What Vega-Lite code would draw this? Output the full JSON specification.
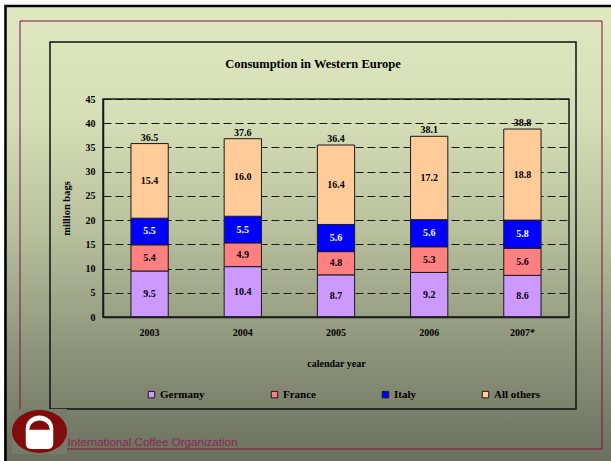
{
  "$schema": "https://vega.github.io/schema/vega-lite/v6.json",
  "width": 607,
  "height": 456,
  "padding": {"left": 4, "top": 5, "right": 0, "bottom": 0},
  "autosize": {"type": "none"},
  "background": "white",
  "config": {
    "view": {
      "stroke": null,
      "fill": {
        "gradient": "linear", "x1": 0, "y1": 0, "x2": 0, "y2": 1,
        "stops": [
          {"offset": 0, "color": "#e0e8c2"},
          {"offset": 0.25, "color": "#d6deb7"},
          {"offset": 0.5, "color": "#b8bf9c"},
          {"offset": 0.75, "color": "#8f957c"},
          {"offset": 1, "color": "#6b705e"}
        ]
      }
    },
    "font": "Liberation Serif"
  },
  "title": {
    "text": "Consumption in Western Europe",
    "font": "Liberation Serif", "fontWeight": "bold", "fontSize": 12.5, "color": "black",
    "anchor": "middle", "offset": -66, "dx": 5.5
  },
  "datasets": {
    "coffee": [
      {"year": "2003", "country": "Germany", "value": 9.5, "k": 1, "total": 36.5},
      {"year": "2003", "country": "France", "value": 5.4, "k": 2, "total": 36.5},
      {"year": "2003", "country": "Italy", "value": 5.5, "k": 3, "total": 36.5},
      {"year": "2003", "country": "All others", "value": 15.4, "k": 4, "total": 36.5},
      {"year": "2004", "country": "Germany", "value": 10.4, "k": 1, "total": 37.6},
      {"year": "2004", "country": "France", "value": 4.9, "k": 2, "total": 37.6},
      {"year": "2004", "country": "Italy", "value": 5.5, "k": 3, "total": 37.6},
      {"year": "2004", "country": "All others", "value": 16.0, "k": 4, "total": 37.6},
      {"year": "2005", "country": "Germany", "value": 8.7, "k": 1, "total": 36.4},
      {"year": "2005", "country": "France", "value": 4.8, "k": 2, "total": 36.4},
      {"year": "2005", "country": "Italy", "value": 5.6, "k": 3, "total": 36.4},
      {"year": "2005", "country": "All others", "value": 16.4, "k": 4, "total": 36.4},
      {"year": "2006", "country": "Germany", "value": 9.2, "k": 1, "total": 38.1},
      {"year": "2006", "country": "France", "value": 5.3, "k": 2, "total": 38.1},
      {"year": "2006", "country": "Italy", "value": 5.6, "k": 3, "total": 38.1},
      {"year": "2006", "country": "All others", "value": 17.2, "k": 4, "total": 38.1},
      {"year": "2007*", "country": "Germany", "value": 8.6, "k": 1, "total": 38.8},
      {"year": "2007*", "country": "France", "value": 5.6, "k": 2, "total": 38.8},
      {"year": "2007*", "country": "Italy", "value": 5.8, "k": 3, "total": 38.8},
      {"year": "2007*", "country": "All others", "value": 18.8, "k": 4, "total": 38.8}
    ],
    "one": [{"id": 1}]
  },
  "layer": [
    {
      "data": {"name": "one"},
      "mark": {"type": "rect", "filled": false, "stroke": "black", "strokeWidth": 2.5},
      "encoding": {
        "x": {"datum": "outer", "type": "nominal", "scale": {"range": [1.5, 800], "paddingInner": 0, "paddingOuter": 0}, "axis": null},
        "y": {"datum": "outer", "type": "nominal", "scale": {"range": [1, 800], "paddingInner": 0, "paddingOuter": 0}, "axis": null}
      }
    },
    {
      "data": {"name": "one"},
      "mark": {"type": "rect", "filled": false, "stroke": "#7a1040", "strokeWidth": 1},
      "encoding": {
        "x": {"datum": "maroon", "type": "nominal", "scale": {"range": [16, 598], "paddingInner": 0, "paddingOuter": 0},
          "axis": {"orient": "bottom", "offset": 0, "domain": false, "labels": false, "ticks": false, "grid": false,
            "title": "International Coffee Organization", "titleX": 63, "titleY": -18.5, "titleAlign": "left", "titleBaseline": "middle",
            "titleFont": "Liberation Sans", "titleFontWeight": "normal", "titleFontSize": 11.6, "titleColor": "#8e2457"}},
        "y": {"datum": "maroon", "type": "nominal", "scale": {"range": [16, 444], "paddingInner": 0, "paddingOuter": 0}, "axis": null}
      }
    },
    {
      "data": {"name": "one"},
      "mark": {"type": "rect", "filled": false, "stroke": "#111111", "strokeWidth": 1.5},
      "encoding": {
        "x": {"datum": "inner", "type": "nominal", "scale": {"range": [46, 572], "paddingInner": 0, "paddingOuter": 0}, "axis": null},
        "y": {"datum": "inner", "type": "nominal", "scale": {"range": [37, 404], "paddingInner": 0, "paddingOuter": 0}, "axis": null}
      }
    },
    {
      "data": {"name": "one"},
      "encoding": {
        "x": {"datum": "logo", "type": "nominal", "scale": {"range": [8, 63], "paddingInner": 0, "paddingOuter": 0}, "axis": null},
        "y": {"datum": "logo", "type": "nominal", "scale": {"range": [404, 449], "paddingInner": 0, "paddingOuter": 0}, "axis": null}
      },
      "layer": [
        {"mark": {"type": "rect", "fill": "#777c6a", "strokeWidth": 0}},
        {"mark": {"type": "point", "filled": true, "opacity": 1, "strokeWidth": 0, "color": "#820b0b", "size": 3025,
          "shape": "M -1 0 A 1 0.78 0 1 0 1 0 A 1 0.78 0 1 0 -1 0 Z"}},
        {"mark": {"type": "point", "filled": true, "opacity": 1, "strokeWidth": 0, "color": "#ffffff", "size": 3025,
          "shape": "M -0.5 -0.12 A 0.5 0.46 0 0 1 0.5 -0.12 L 0.5 0.42 Q 0.5 0.64 0.28 0.64 L -0.28 0.64 Q -0.5 0.64 -0.5 0.42 Z"}},
        {"mark": {"type": "point", "filled": true, "opacity": 1, "strokeWidth": 0, "color": "#820b0b", "size": 3025,
          "shape": "M -0.37 -0.06 A 0.37 0.34 0 0 1 0.37 -0.06 Z"}}
      ]
    },
    {
      "data": {"name": "coffee"},
      "encoding": {
        "x": {
          "field": "year", "type": "nominal", "sort": null,
          "scale": {"domain": ["2003", "2004", "2005", "2006", "2007*"], "range": [99, 565], "paddingInner": 0.6, "paddingOuter": 0.3},
          "axis": {
            "orient": "bottom", "offset": -144, "ticks": false, "labelPadding": 10, "labelAngle": 0,
            "labelFont": "Liberation Serif", "labelFontWeight": "bold", "labelFontSize": 10, "labelColor": "black",
            "domain": true, "domainColor": "#1a1a1a", "domainWidth": 1.5, "grid": false,
            "title": "calendar year", "titleX": 332, "titleY": 46, "titleBaseline": "middle", "titleAlign": "center",
            "titleFont": "Liberation Serif", "titleFontWeight": "bold", "titleFontSize": 10, "titleColor": "black"
          }
        }
      },
      "layer": [
        {
          "mark": {"type": "bar", "stroke": "#1a1a1a", "strokeWidth": 1},
          "encoding": {
            "y": {
              "field": "value", "type": "quantitative", "stack": "zero",
              "scale": {"domain": [0, 45], "range": [312, 94], "nice": false},
              "axis": {
                "orient": "left", "offset": -99, "values": [0, 5, 10, 15, 20, 25, 30, 35, 40, 45],
                "grid": true, "gridDash": [8, 4], "gridColor": "#1a1a1a", "gridWidth": 1, "gridOpacity": 1,
                "ticks": false, "labelPadding": 8,
                "labelFont": "Liberation Serif", "labelFontWeight": "bold", "labelFontSize": 10, "labelColor": "black",
                "domain": true, "domainColor": "#1a1a1a", "domainWidth": 1.5,
                "title": "million bags", "titleX": -37, "titleY": 203, "titleAlign": "center", "titleBaseline": "middle",
                "titleFont": "Liberation Serif", "titleFontWeight": "bold", "titleFontSize": 10.5, "titleColor": "black"
              }
            },
            "color": {
              "field": "country", "type": "nominal",
              "scale": {"domain": ["Germany", "France", "Italy", "All others"], "range": ["#cc99ff", "#ff8080", "#0000ff", "#ffcc99"]},
              "legend": {
                "orient": "none", "legendX": 142, "legendY": 384, "direction": "horizontal", "columns": 4,
                "title": null, "padding": 0, "symbolType": "square", "symbolSize": 42,
                "symbolStrokeColor": "#1a1a1a", "symbolStrokeWidth": 1, "labelOffset": 3, "columnPadding": 64,
                "labelFont": "Liberation Serif", "labelFontWeight": "bold", "labelFontSize": 11, "labelColor": "black"
              }
            },
            "order": {"field": "k", "type": "quantitative"}
          }
        },
        {
          "transform": [
            {"stack": "value", "groupby": ["year"], "sort": [{"field": "k", "order": "ascending"}], "as": ["v0", "v1"]},
            {"calculate": "(datum.v0 + datum.v1) / 2", "as": "mid"}
          ],
          "mark": {"type": "text", "font": "Liberation Serif", "fontWeight": "bold", "fontSize": 10, "baseline": "middle"},
          "encoding": {
            "y": {"field": "mid", "type": "quantitative"},
            "text": {"field": "value", "type": "quantitative", "format": ".1f"},
            "color": {"condition": {"test": "datum.country === 'Italy'", "value": "white"}, "value": "black"}
          }
        },
        {
          "transform": [
            {"aggregate": [{"op": "sum", "field": "value", "as": "top"}], "groupby": ["year", "total"]}
          ],
          "mark": {"type": "text", "font": "Liberation Serif", "fontWeight": "bold", "fontSize": 10, "baseline": "bottom", "dy": -1, "color": "black"},
          "encoding": {
            "y": {"field": "top", "type": "quantitative"},
            "text": {"field": "total", "type": "quantitative", "format": ".1f"}
          }
        }
      ]
    },
    {
      "data": {"name": "one"},
      "mark": {"type": "rect", "filled": false, "stroke": "#1a1a1a", "strokeWidth": 1.5},
      "encoding": {
        "x": {"datum": "plot", "type": "nominal", "scale": {"range": [99, 565], "paddingInner": 0, "paddingOuter": 0}, "axis": null},
        "y": {"datum": "plot", "type": "nominal", "scale": {"range": [94, 312], "paddingInner": 0, "paddingOuter": 0}, "axis": null}
      }
    }
  ],
  "resolve": {"scale": {"x": "independent", "y": "independent"}}
}
